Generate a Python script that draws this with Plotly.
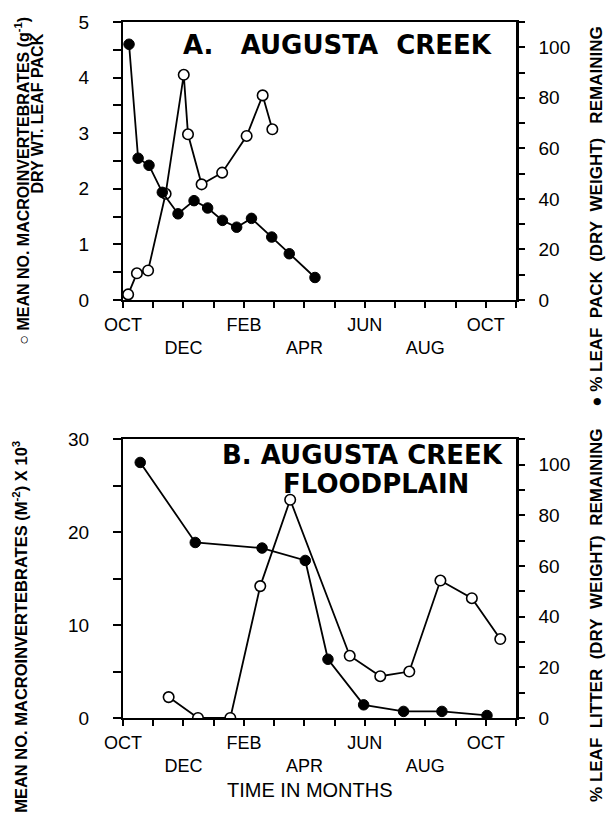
import plotly.graph_objects as go

# ---------------- data (months counted from October = 0) ----------------
label_months = [0, 2, 4, 6, 8, 10, 12]
month_labels = ["OCT", "DEC", "FEB", "APR", "JUN", "AUG", "OCT"]

# Panel A: Augusta Creek
a_count_month = [0.17, 0.46, 0.83, 1.41, 2.01, 2.15, 2.60, 3.28, 4.09, 4.62, 4.94]
a_count = [0.10, 0.48, 0.53, 1.91, 4.05, 2.98, 2.08, 2.29, 2.95, 3.68, 3.07]
a_pack_month = [0.20, 0.50, 0.86, 1.30, 1.82, 2.35, 2.80, 3.29, 3.76, 4.25, 4.92, 5.50, 6.35]
a_pack = [101.2, 56.1, 53.3, 42.6, 34.1, 39.3, 36.4, 31.5, 28.8, 32.3, 24.9, 18.3, 8.9]

# Panel B: Augusta Creek floodplain
b_count_month = [1.51, 2.48, 3.55, 4.54, 5.53, 7.50, 8.51, 9.47, 10.50, 11.54, 12.48]
b_count = [2.25, 0.0, 0.0, 14.2, 23.5, 6.7, 4.5, 5.0, 14.8, 12.9, 8.5]
b_litter_month = [0.57, 2.39, 4.60, 6.03, 6.78, 7.96, 9.28, 10.55, 12.04]
b_litter = [100.9, 69.3, 67.1, 62.2, 23.2, 5.2, 2.6, 2.6, 1.0]

# ---------------- styling ----------------
FONT = "Liberation Sans, Arial, Helvetica, sans-serif"
BOLD = "DejaVu Sans, Liberation Sans, Arial, sans-serif"
BLACK = "black"

ticktext = [m if i % 2 == 0 else "\u00a0<br>" + m for i, m in enumerate(month_labels)]

line = dict(color=BLACK, width=1.8)
open_marker = dict(symbol="circle", size=10.5, color="white", line=dict(color=BLACK, width=1.6))
filled_marker = dict(symbol="circle", size=10.5, color=BLACK, line=dict(color=BLACK, width=1))

fig = go.Figure()
fig.add_trace(go.Scatter(x=a_pack_month, y=a_pack, mode="lines+markers", line=line,
                         marker=filled_marker, xaxis="x", yaxis="y2", showlegend=False))
fig.add_trace(go.Scatter(x=a_count_month, y=a_count, mode="lines+markers", line=line,
                         marker=open_marker, xaxis="x", yaxis="y", showlegend=False))
fig.add_trace(go.Scatter(x=b_litter_month, y=b_litter, mode="lines+markers", line=line,
                         marker=filled_marker, xaxis="x2", yaxis="y4", showlegend=False))
fig.add_trace(go.Scatter(x=b_count_month, y=b_count, mode="lines+markers", line=line,
                         marker=open_marker, xaxis="x2", yaxis="y3", showlegend=False))

xcommon = dict(range=[0, 13], tickmode="array", tickvals=label_months, ticktext=ticktext,
               tickangle=0, showline=True, linecolor=BLACK, linewidth=2, mirror=True,
               ticks="outside", ticklen=6, tickwidth=1.5, tickcolor=BLACK,
               minor=dict(tick0=0, dtick=1, ticks="outside", ticklen=6, tickwidth=1.5,
                          tickcolor=BLACK),
               showgrid=False, zeroline=False, ticklabelstandoff=1,
               tickfont=dict(family=FONT, size=18, color=BLACK))
yleft = dict(showline=True, linecolor=BLACK, linewidth=2, ticks="outside", ticklen=8,
             tickwidth=1.5, tickcolor=BLACK, showgrid=False, zeroline=False,
             ticklabelstandoff=20, tickfont=dict(family=FONT, size=19, color=BLACK))
yright = dict(showline=True, linecolor=BLACK, linewidth=2.5, ticks="outside", ticklen=6,
              tickwidth=1.5, tickcolor=BLACK, showgrid=False, zeroline=False,
              side="right", range=[0, 110], tickvals=[0, 20, 40, 60, 80, 100],
              minor=dict(dtick=10, ticks="outside", ticklen=6, tickwidth=1.5, tickcolor=BLACK),
              ticklabelstandoff=10, tickfont=dict(family=FONT, size=19, color=BLACK))

top_dom = [0.6006, 1.0]
bot_dom = [0.0, 0.4003]

fig.update_layout(
    width=606, height=815,
    margin=dict(l=123, r=90, t=17, b=97),
    paper_bgcolor="white", plot_bgcolor="white",
    xaxis=dict(**xcommon, domain=[0, 1], anchor="y"),
    xaxis2=dict(**xcommon, domain=[0, 1], anchor="y3"),
    yaxis=dict(**yleft, domain=top_dom, anchor="x", range=[0, 5], dtick=1,
               minor=dict(dtick=0.5, ticks="outside", ticklen=8, tickwidth=1.5, tickcolor=BLACK)),
    yaxis2=dict(**yright, overlaying="y", anchor="x"),
    yaxis3=dict(**yleft, domain=bot_dom, anchor="x2", range=[0, 30], dtick=10,
                minor=dict(dtick=5, ticks="outside", ticklen=8, tickwidth=1.5, tickcolor=BLACK)),
    yaxis4=dict(**yright, overlaying="y3", anchor="x2"),
)

def ann(text, x, y, size, family=FONT, angle=0, xanchor="center", bold=False):
    if bold:
        text = "<b>" + text + "</b>"
    fig.add_annotation(text=text, x=x, y=y, xref="paper", yref="paper", showarrow=False,
                       textangle=angle, xanchor=xanchor, yanchor="middle", borderpad=0,
                       font=dict(family=family, size=size, color=BLACK))

# panel titles
ann("A.\u00a0\u00a0\u00a0AUGUSTA\u00a0\u00a0CREEK", 0.150, 0.967, 26, family=BOLD, xanchor="left", bold=True)
ann("B. AUGUSTA CREEK", 0.609, 0.378, 26, family=BOLD, bold=True)
ann("FLOODPLAIN", 0.644, 0.336, 26, family=BOLD, bold=True)

# axis titles
ann("\u25cb MEAN NO. MACROINVERTEBRATES (g<sup>-1</sup>)", -0.257, 0.772, 16, angle=-90, bold=True)
ann("DRY WT. LEAF PACK", -0.218, 0.869, 16, angle=-90, bold=True)
ann("\u25cf % LEAF\u00a0\u00a0PACK\u00a0\u00a0(DRY\u00a0\u00a0WEIGHT)\u00a0\u00a0\u00a0REMAINING",
    1.206, 0.720, 17, angle=-90, bold=True)
ann("%\u00a0LEAF\u00a0\u00a0LITTER\u00a0\u00a0(DRY\u00a0\u00a0WEIGHT)\u00a0\u00a0REMAINING",
    1.206, 0.148, 17, angle=-90, bold=True)
ann("MEAN NO. MACROINVERTEBRATES (M<sup>-2</sup>) X 10<sup>3</sup>", -0.262, 0.131, 16.5,
    angle=-90, bold=True)
ann("TIME IN MONTHS", 0.476, -0.104, 20)

fig.write_html("out.html", config={"displayModeBar": False},
               post_script="document.body.style.margin='0';")
